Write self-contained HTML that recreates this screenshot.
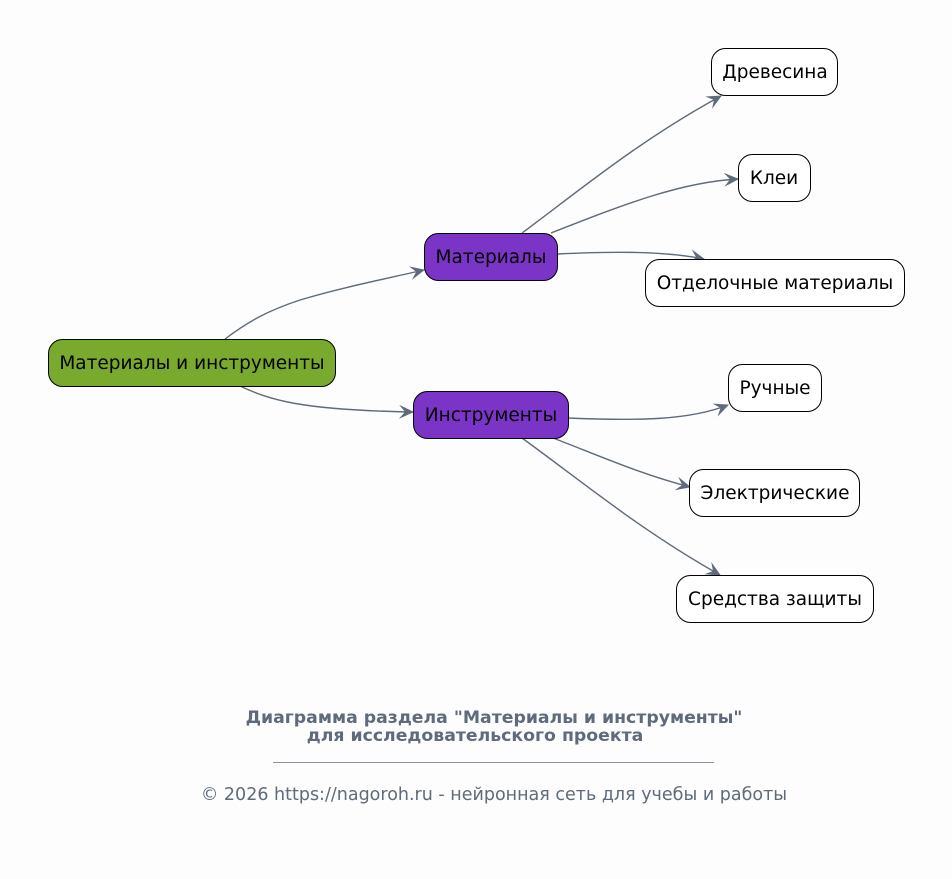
<!DOCTYPE html>
<html><head><meta charset="utf-8"><style>
html,body{margin:0;padding:0;background:#fdfdfd;}
svg{display:block;font-family:"DejaVu Sans","Liberation Sans",sans-serif;}
</style></head><body>
<svg width="952" height="879" viewBox="0 0 952 879" xmlns="http://www.w3.org/2000/svg">
<defs>
<marker id="a" markerWidth="18" markerHeight="16" refX="14" refY="7" orient="auto" markerUnits="userSpaceOnUse">
<path d="M0,0 L15,7 L0,14 L6,7 Z" fill="#5f6b7a"/>
</marker>
</defs>
<rect width="952" height="879" fill="#fdfdfd"/>
<g fill="none" stroke="#5f6b7a" stroke-width="1.4" marker-end="url(#a)">
<path d="M225,339 C250,320 270,310 300,300 C340,288 380,280 424,270"/>
<path d="M240,386 C270,400 300,410 413,412"/>
<path d="M522,233 C580,190 640,140 721,96"/>
<path d="M551,233 C620,206 680,182 738,179"/>
<path d="M557,254 C600,252 660,250 704,259"/>
<path d="M568,418 C640,421 690,420 728,405"/>
<path d="M553,438 C600,456 640,474 690,487"/>
<path d="M522,438 C580,480 640,530 720,575"/>
</g>
<g stroke="#000" stroke-width="1">
<rect x="48.5" y="339.5" width="287" height="47" rx="14" fill="#7aaa2d"/>
<rect x="424.5" y="233.5" width="133" height="47" rx="14" fill="#7a35c6"/>
<rect x="413.5" y="391.5" width="155" height="47" rx="14" fill="#7a35c6"/>
<rect x="711.5" y="48.5" width="126" height="47" rx="14" fill="#fff"/>
<rect x="738.5" y="154.5" width="72" height="47" rx="14" fill="#fff"/>
<rect x="645.5" y="259.5" width="259" height="47" rx="14" fill="#fff"/>
<rect x="728.5" y="364.5" width="93" height="47" rx="14" fill="#fff"/>
<rect x="689.5" y="469.5" width="170" height="47" rx="14" fill="#fff"/>
<rect x="676.5" y="575.5" width="197" height="47" rx="14" fill="#fff"/>
</g>
<g font-size="18.5" fill="#000" text-anchor="middle">
<text x="192" y="369">Материалы и инструменты</text>
<text x="491" y="263">Материалы</text>
<text x="491" y="421">Инструменты</text>
<text x="775" y="78">Древесина</text>
<text x="774" y="184">Клеи</text>
<text x="775" y="289">Отделочные материалы</text>
<text x="775" y="394">Ручные</text>
<text x="775" y="499">Электрические</text>
<text x="775" y="605">Средства защиты</text>
</g>
<g fill="#5f6b7a" text-anchor="middle">
<text x="494" y="723" font-size="17.3" font-weight="bold">Диаграмма раздела "Материалы и инструменты"</text>
<text x="475" y="741" font-size="17.3" font-weight="bold">для исследовательского проекта</text>
<line x1="273" y1="762.5" x2="714" y2="762.5" stroke="#8a94a0" stroke-width="1"/>
<text x="494" y="800" font-size="17.5">© 2026 https://nagoroh.ru - нейронная сеть для учебы и работы</text>
</g>
</svg>
</body></html>
